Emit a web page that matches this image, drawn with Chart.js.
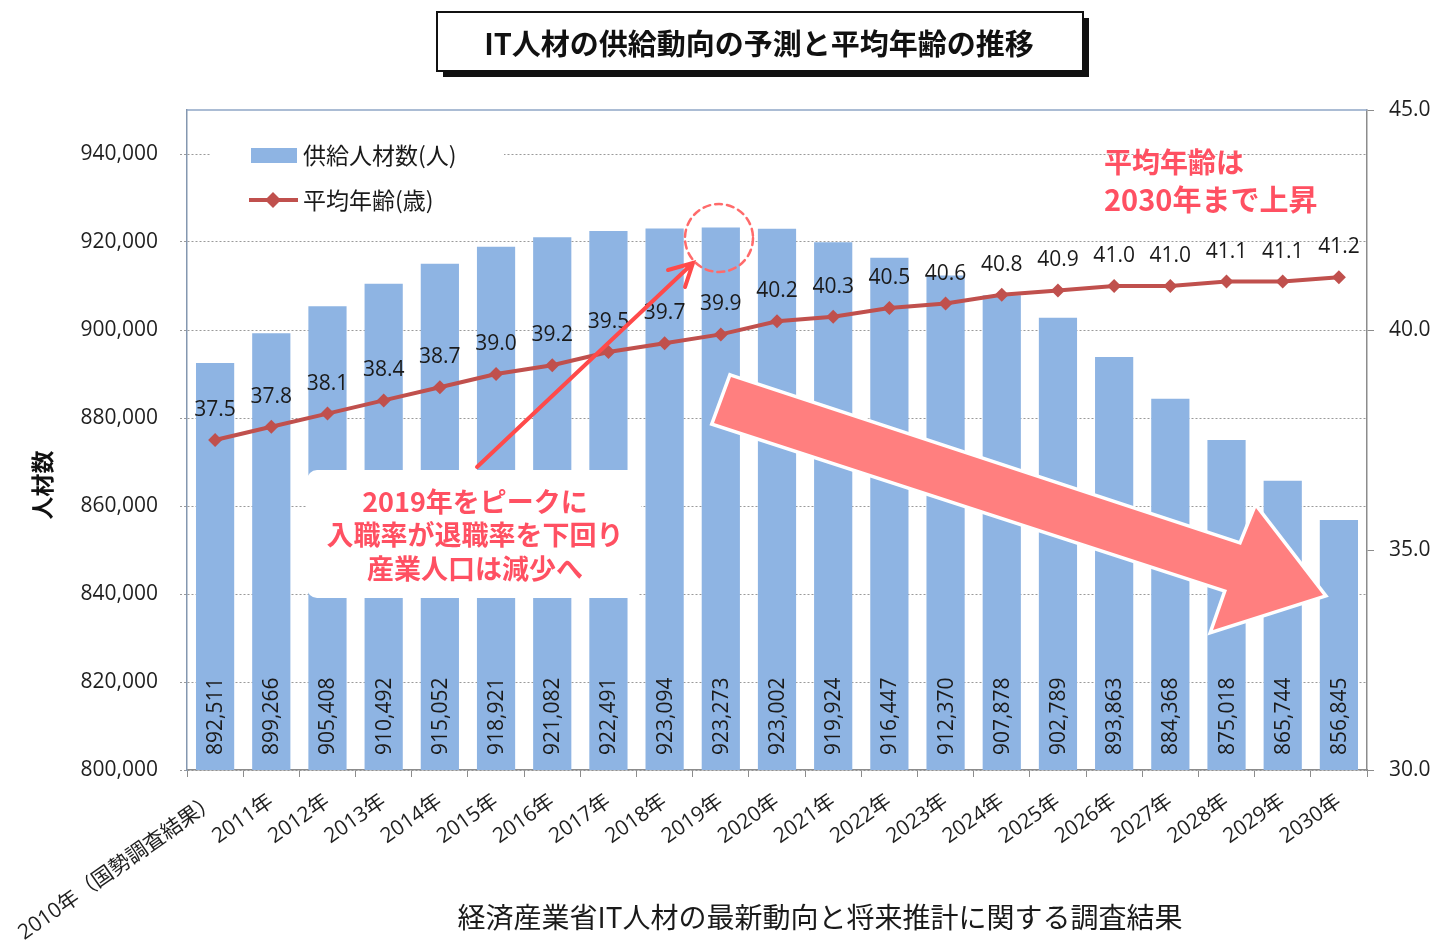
<!DOCTYPE html>
<html lang="ja">
<head>
<meta charset="utf-8">
<title>IT人材の供給動向の予測と平均年齢の推移</title>
<script src="https://cdn.jsdelivr.net/npm/chart.js@4.4.0/dist/chart.umd.min.js"></script>
<style>
  html, body { margin: 0; padding: 0; background: #fff; }
  #wrap { width: 1437px; height: 940px; }
</style>
</head>
<body>
<div id="wrap"><canvas id="chart" width="1437" height="940"></canvas></div>
<script>
const years = [
  "2010年（国勢調査結果）", "2011年", "2012年", "2013年", "2014年", "2015年", "2016年",
  "2017年", "2018年", "2019年", "2020年", "2021年", "2022年", "2023年", "2024年",
  "2025年", "2026年", "2027年", "2028年", "2029年", "2030年"
];
const supply = [
  892511, 899266, 905408, 910492, 915052, 918921, 921082, 922491, 923094, 923273,
  923002, 919924, 916447, 912370, 907878, 902789, 893863, 884368, 875018, 865744, 856845
];
const avgAge = [
  37.5, 37.8, 38.1, 38.4, 38.7, 39.0, 39.2, 39.5, 39.7, 39.9,
  40.2, 40.3, 40.5, 40.6, 40.8, 40.9, 41.0, 41.0, 41.1, 41.1, 41.2
];
const supplyTicks = [800000, 820000, 840000, 860000, 880000, 900000, 920000, 940000];
const ageTicks = [30, 35, 40, 45];

const BAR_BLUE = "#8EB4E3";
const LINE_RED = "#C0504D";
const NOTE_RED = "#FF5062";
const NUM_FONT = "'Open Sans', 'Noto Sans CJK JP', sans-serif";
const JP_FONT = "'Noto Sans CJK JP', sans-serif";

Chart.defaults.font.family = NUM_FONT;
Chart.defaults.color = "#1f1f1f";

// values in the bars and above the age points
const valueLabels = {
  id: "valueLabels",
  afterDatasetsDraw(chart) {
    const { ctx, chartArea } = chart;
    ctx.save();
    ctx.font = "21px " + NUM_FONT;
    ctx.fillStyle = "#1a1a1a";
    chart.getDatasetMeta(0).data.forEach((bar, i) => {
      ctx.save();
      ctx.translate(bar.x, chartArea.bottom - 15);
      ctx.rotate(-Math.PI / 2);
      ctx.textAlign = "left";
      ctx.textBaseline = "middle";
      ctx.fillText(supply[i].toLocaleString("en-US"), 0, 1);
      ctx.restore();
    });
    ctx.textAlign = "center";
    ctx.textBaseline = "middle";
    chart.getDatasetMeta(1).data.forEach((pt, i) => {
      ctx.fillText(avgAge[i].toFixed(1), pt.x, pt.y - 30);
    });
    ctx.restore();
  }
};

// legend, notes, arrows, title box, caption
const overlay = {
  id: "overlay",
  afterDraw(chart) {
    const { ctx, chartArea } = chart;
    ctx.save();

    // top frame line
    ctx.strokeStyle = "#8FA6C6";
    ctx.lineWidth = 1.5;
    ctx.beginPath();
    ctx.moveTo(chartArea.left, chartArea.top);
    ctx.lineTo(chartArea.right, chartArea.top);
    ctx.stroke();

    // legend
    ctx.fillStyle = "#fff";
    ctx.fillRect(210, 136, 294, 82);
    ctx.fillStyle = BAR_BLUE;
    ctx.fillRect(251, 148, 46, 15);
    ctx.strokeStyle = LINE_RED;
    ctx.lineWidth = 4;
    ctx.beginPath();
    ctx.moveTo(249, 200);
    ctx.lineTo(298, 200);
    ctx.stroke();
    ctx.fillStyle = LINE_RED;
    ctx.beginPath();
    ctx.moveTo(273, 192); ctx.lineTo(281, 200); ctx.lineTo(273, 208); ctx.lineTo(265, 200);
    ctx.closePath();
    ctx.fill();
    ctx.fillStyle = "#1a1a1a";
    ctx.font = "23px " + JP_FONT;
    ctx.textAlign = "left";
    ctx.textBaseline = "middle";
    ctx.fillText(chart.data.datasets[0].label, 303, 155);
    ctx.fillText(chart.data.datasets[1].label, 303, 200);

    // white note box
    ctx.fillStyle = "#fff";
    ctx.beginPath();
    ctx.roundRect(307, 470, 334, 128, 10);
    ctx.fill();
    ctx.fillStyle = NOTE_RED;
    ctx.font = "bold 27px " + JP_FONT;
    ctx.textAlign = "center";
    ctx.fillText("2019年をピークに", 475, 502);
    ctx.fillText("入職率が退職率を下回り", 475, 535);
    ctx.fillText("産業人口は減少へ", 475, 569);

    // thin arrow to the 2019 peak
    ctx.strokeStyle = "#FF4A4A";
    ctx.lineWidth = 4;
    ctx.lineCap = "round";
    ctx.beginPath();
    ctx.moveTo(477, 467);
    ctx.lineTo(693, 263);
    ctx.moveTo(668, 270);
    ctx.lineTo(693, 263);
    ctx.lineTo(685, 287);
    ctx.stroke();

    // dashed circle
    ctx.strokeStyle = "#FF6B6B";
    ctx.lineWidth = 2.5;
    ctx.setLineDash([7, 5]);
    ctx.beginPath();
    ctx.arc(719, 238, 34, 0, Math.PI * 2);
    ctx.stroke();
    ctx.setLineDash([]);

    // big downward arrow
    ctx.beginPath();
    ctx.moveTo(731, 377);
    ctx.lineTo(1241, 545);
    ctx.lineTo(1256, 508);
    ctx.lineTo(1323, 595);
    ctx.lineTo(1213, 630);
    ctx.lineTo(1227, 590);
    ctx.lineTo(714, 423);
    ctx.closePath();
    ctx.lineJoin = "miter";
    ctx.strokeStyle = "#fff";
    ctx.lineWidth = 7;
    ctx.stroke();
    ctx.fillStyle = "#FF7F7F";
    ctx.fill();

    // red note top right
    ctx.fillStyle = NOTE_RED;
    ctx.font = "bold 28px " + JP_FONT;
    ctx.textAlign = "left";
    ctx.fillText("平均年齢は", 1104, 162);
    ctx.font = "bold 29px " + JP_FONT;
    ctx.fillText("2030年まで上昇", 1104, 200);

    // title box with shadow
    ctx.fillStyle = "#111";
    ctx.fillRect(443, 18, 646, 59);
    ctx.fillStyle = "#fff";
    ctx.fillRect(437, 12, 646, 59);
    ctx.strokeStyle = "#111";
    ctx.lineWidth = 2;
    ctx.strokeRect(437, 12, 646, 59);
    ctx.fillStyle = "#111";
    ctx.font = "bold 29px " + JP_FONT;
    ctx.textAlign = "center";
    ctx.fillText("IT人材の供給動向の予測と平均年齢の推移", 759, 44);

    // y title
    ctx.save();
    ctx.translate(42, 485);
    ctx.rotate(-Math.PI / 2);
    ctx.font = "bold 23px " + JP_FONT;
    ctx.fillText("人材数", 0, 0);
    ctx.restore();

    // source caption
    ctx.fillStyle = "#1a1a1a";
    ctx.font = "28px " + JP_FONT;
    ctx.fillText("経済産業省IT人材の最新動向と将来推計に関する調査結果", 820, 917);

    ctx.restore();
  }
};

new Chart(document.getElementById("chart"), {
  type: "bar",
  data: {
    labels: years,
    datasets: [
      {
        type: "bar",
        label: "供給人材数(人)",
        data: supply,
        yAxisID: "y",
        backgroundColor: BAR_BLUE,
        categoryPercentage: 1,
        barPercentage: 0.68,
        order: 1
      },
      {
        type: "line",
        label: "平均年齢(歳)",
        data: avgAge,
        yAxisID: "y1",
        borderColor: LINE_RED,
        backgroundColor: LINE_RED,
        borderWidth: 4,
        pointStyle: "rectRot",
        pointRadius: 7,
        pointBorderWidth: 0,
        tension: 0,
        order: 0
      }
    ]
  },
  options: {
    responsive: false,
    animation: false,
    layout: { padding: { top: 110, left: 0, right: 0, bottom: 0 } },
    plugins: {
      legend: { display: false },
      tooltip: { enabled: false }
    },
    scales: {
      x: {
        grid: { drawOnChartArea: false, tickLength: 7, color: "#8C8C8C" },
        border: { color: "#8C8C8C", width: 1.5 },
        ticks: {
          autoSkip: false,
          minRotation: 35,
          maxRotation: 35,
          padding: 12,
          font: { size: 21 },
          color: "#1f1f1f"
        },
        afterFit: (s) => { s.height = 170; s.paddingLeft = 0; s.paddingRight = 0; }
      },
      y: {
        position: "left",
        min: 800000,
        max: 950000,
        afterBuildTicks: (s) => { s.ticks = supplyTicks.map((v) => ({ value: v })); },
        grid: { color: "#9A9A9A", tickLength: 7, tickBorderDash: [2, 2] },
        border: { color: "#8497B0", width: 1.5, dash: [2, 2] },
        ticks: {
          padding: 22,
          font: { size: 21 },
          color: "#1f1f1f",
          callback: (v) => v.toLocaleString("en-US")
        },
        afterFit: (s) => { s.width = 187; }
      },
      y1: {
        position: "right",
        min: 30,
        max: 45,
        afterBuildTicks: (s) => { s.ticks = ageTicks.map((v) => ({ value: v })); },
        grid: { drawOnChartArea: false, tickLength: 7, color: "#8C8C8C" },
        border: { color: "#8C8C8C", width: 1.5 },
        ticks: {
          padding: 15,
          font: { size: 21 },
          color: "#1f1f1f",
          callback: (v) => v.toFixed(1)
        },
        afterFit: (s) => { s.width = 70; }
      }
    }
  },
  plugins: [valueLabels, overlay]
});
</script>
</body>
</html>
